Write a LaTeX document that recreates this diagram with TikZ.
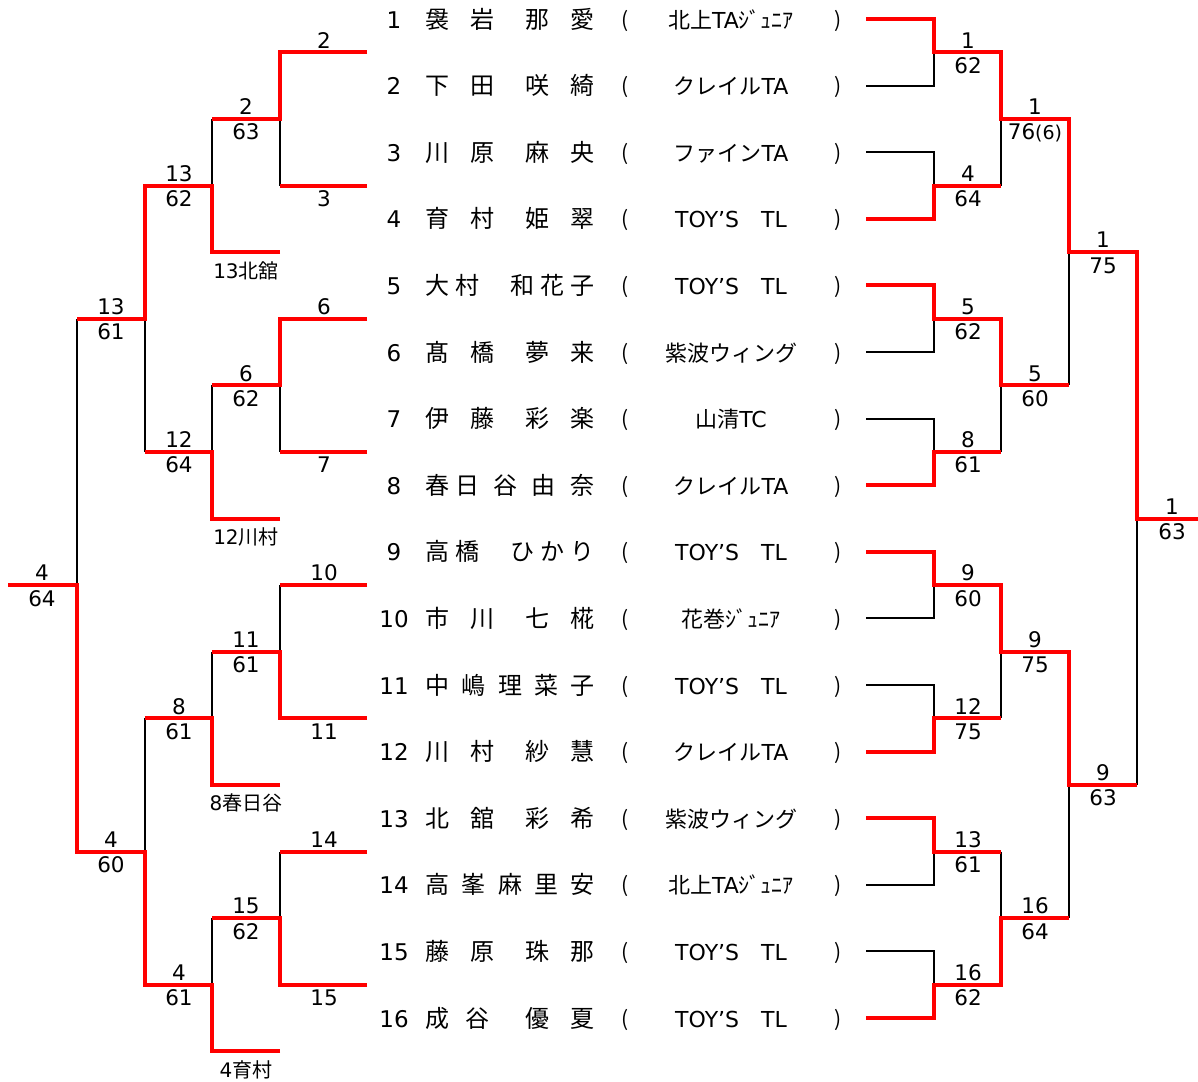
\documentclass[tikz,border=0pt]{standalone}
\usepackage{fontspec}
\setmainfont{DejaVu Sans}
\newfontfamily\cjk{Noto Sans CJK JP}

\tikzset{
  win/.style={red, line width=4pt, line join=miter},
  lose/.style={black, line width=2pt, line join=miter},
  sc/.style={font=\fontsize{21.5}{21.5}\selectfont, inner sep=0pt, anchor=base},
  up/.style={sc, yshift=4.3pt},
  dn/.style={sc, yshift=-21pt},
  place/.style={font=\fontsize{20}{20}\selectfont, inner sep=0pt, anchor=base, yshift=-26pt},
  num/.style={font=\fontsize{23}{23}\selectfont, inner sep=0pt, anchor=base, yshift=-9pt},
  nm/.style={font={\cjk\fontsize{24}{24}\selectfont}, inner sep=0pt, anchor=base, yshift=-9pt},
  team/.style={font=\fontsize{22}{22}\selectfont, inner sep=0pt, anchor=base, yshift=-9pt},
  paren/.style={font={\cjk\fontsize{21}{21}\selectfont}, inner sep=0pt, anchor=base, yshift=-8pt},
}

% row, number, name columns x/char, team
\newcommand\player[4]{%
  \node[num] (n#2) at (394,#1) {#2};
  \foreach \x/\c [count=\j] in {#3} \node[nm] (p#2-\j) at (\x,#1) {\c};
  \node[paren] (l#2) at (625,#1) {(};
  \node[team] (t#2) at (731,#1) {#4};
  \node[paren] (r#2) at (838,#1) {)};
}

\begin{document}
\begin{tikzpicture}[x=1pt, y=-33.3pt]
\useasboundingbox (0,-0.5706) rectangle (1198,31.892);

% players
\player{0}{1}{437/袰,482/岩,537/那,582/愛}{{\cjk 北上}TA{\cjk ｼﾞｭﾆｱ}}
\player{2}{2}{437/下,482/田,537/咲,582/綺}{{\cjk クレイル}TA}
\player{4}{3}{437/川,482/原,537/麻,582/央}{{\cjk ファイン}TA}
\player{6}{4}{437/育,482/村,537/姫,582/翠}{TOY’S{\cjk 　}TL}
\player{8}{5}{437/大,467/村,522/和,552/花,582/子}{TOY’S{\cjk 　}TL}
\player{10}{6}{437/髙,482/橋,537/夢,582/来}{{\cjk 紫波ウィング}}
\player{12}{7}{437/伊,482/藤,537/彩,582/楽}{{\cjk 山清}TC}
\player{14}{8}{437/春,467/日,505/谷,543/由,582/奈}{{\cjk クレイル}TA}
\player{16}{9}{437/高,467/橋,522/ひ,552/か,582/り}{TOY’S{\cjk 　}TL}
\player{18}{10}{437/市,482/川,537/七,582/椛}{{\cjk 花巻ｼﾞｭﾆｱ}}
\player{20}{11}{437/中,473/嶋,510/理,546/菜,582/子}{TOY’S{\cjk 　}TL}
\player{22}{12}{437/川,482/村,537/紗,582/慧}{{\cjk クレイル}TA}
\player{24}{13}{437/北,482/舘,537/彩,582/希}{{\cjk 紫波ウィング}}
\player{26}{14}{437/高,473/峯,510/麻,546/里,582/安}{{\cjk 北上}TA{\cjk ｼﾞｭﾆｱ}}
\player{28}{15}{437/藤,482/原,537/珠,582/那}{TOY’S{\cjk 　}TL}
\player{30}{16}{437/成,477/谷,537/優,582/夏}{TOY’S{\cjk 　}TL}

% main draw, black parts
\foreach \k in {0,8,16,24} {
  \draw[lose] (866,{\k+2}) -- (934,{\k+2}) -- (934,{\k+1});
  \draw[lose] (866,{\k+4}) -- (934,{\k+4}) -- (934,{\k+5});
}
\draw[lose] (1001,3) -- (1001,5);
\draw[lose] (1001,11) -- (1001,13);
\draw[lose] (1001,19) -- (1001,21);
\draw[lose] (1001,25) -- (1001,27);
\draw[lose] (1069,7) -- (1069,11);
\draw[lose] (1069,23) -- (1069,27);
\draw[lose] (1137,15) -- (1137,23);

% main draw, winners
\draw[win] (866,0) -- (934,0) -- (934,1) -- (1001,1) -- (1001,3) -- (1069,3) -- (1069,7) -- (1137,7) -- (1137,15) -- (1198,15);
\draw[win] (866,6) -- (934,6) -- (934,5) -- (1001,5);
\draw[win] (866,8) -- (934,8) -- (934,9) -- (1001,9) -- (1001,11) -- (1069,11);
\draw[win] (866,14) -- (934,14) -- (934,13) -- (1001,13);
\draw[win] (866,16) -- (934,16) -- (934,17) -- (1001,17) -- (1001,19) -- (1069,19) -- (1069,23) -- (1137,23);
\draw[win] (866,22) -- (934,22) -- (934,21) -- (1001,21);
\draw[win] (866,24) -- (934,24) -- (934,25) -- (1001,25);
\draw[win] (866,30) -- (934,30) -- (934,29) -- (1001,29) -- (1001,27) -- (1069,27);

% consolation draw, black parts
\draw[lose] (280,3) -- (280,5);
\draw[lose] (280,11) -- (280,13);
\draw[lose] (280,17) -- (280,19);
\draw[lose] (280,25) -- (280,27);
\draw[lose] (212,3) -- (212,5);
\draw[lose] (212,11) -- (212,13);
\draw[lose] (212,19) -- (212,21);
\draw[lose] (212,27) -- (212,29);
\draw[lose] (145,9) -- (145,13);
\draw[lose] (145,21) -- (145,25);
\draw[lose] (77,9) -- (77,17);

% consolation draw, winners
\draw[win] (367,1) -- (280,1) -- (280,3) -- (212,3);
\draw[win] (367,5) -- (280,5);
\draw[win] (367,9) -- (280,9) -- (280,11) -- (212,11);
\draw[win] (367,13) -- (280,13);
\draw[win] (367,17) -- (280,17);
\draw[win] (367,21) -- (280,21) -- (280,19) -- (212,19);
\draw[win] (367,25) -- (280,25);
\draw[win] (367,29) -- (280,29) -- (280,27) -- (212,27);
\draw[win] (280,7) -- (212,7) -- (212,5) -- (145,5) -- (145,9) -- (77,9);
\draw[win] (280,15) -- (212,15) -- (212,13) -- (145,13);
\draw[win] (280,23) -- (212,23) -- (212,21) -- (145,21);
\draw[win] (280,31) -- (212,31) -- (212,29) -- (145,29) -- (145,25) -- (77,25) -- (77,17) -- (8,17);

% winners and scores
\foreach \x/\k/\a/\b in {968/1/1/62, 968/5/4/64, 968/9/5/62, 968/13/8/61,
    968/17/9/60, 968/21/12/75, 968/25/13/61, 968/29/16/62,
    1035/11/5/60, 1035/19/9/75, 1035/27/16/64, 1103/7/1/75, 1103/23/9/63,
    1172/15/1/63, 246/3/2/63, 246/11/6/62, 246/19/11/61, 246/27/15/62,
    179/5/13/62, 179/13/12/64, 179/21/8/61, 179/29/4/61,
    111/9/13/61, 111/25/4/60, 42/17/4/64} {
  \node[up] (w\x-\k) at (\x,\k) {\a};
  \node[dn] (s\x-\k) at (\x,\k) {\b};
}
\node[up] (w1035-3) at (1035,3) {1};
\node[dn] (s1035-3) at (1035,3) {76{\fontsize{19}{19}\selectfont(6)}};

% consolation entries
\foreach \k/\a in {1/2, 9/6, 17/10, 25/14} \node[up] (c\k) at (324,\k) {\a};
\foreach \k/\a in {5/3, 13/7, 21/11, 29/15} \node[dn] (c\k) at (324,\k) {\a};
\foreach \k/\a in {7/{13{\cjk 北舘}}, 15/{12{\cjk 川村}}, 23/{8{\cjk 春日谷}}, 31/{4{\cjk 育村}}}
  \node[place] (b\k) at (246,\k) {\a};
\end{tikzpicture}
\end{document}
